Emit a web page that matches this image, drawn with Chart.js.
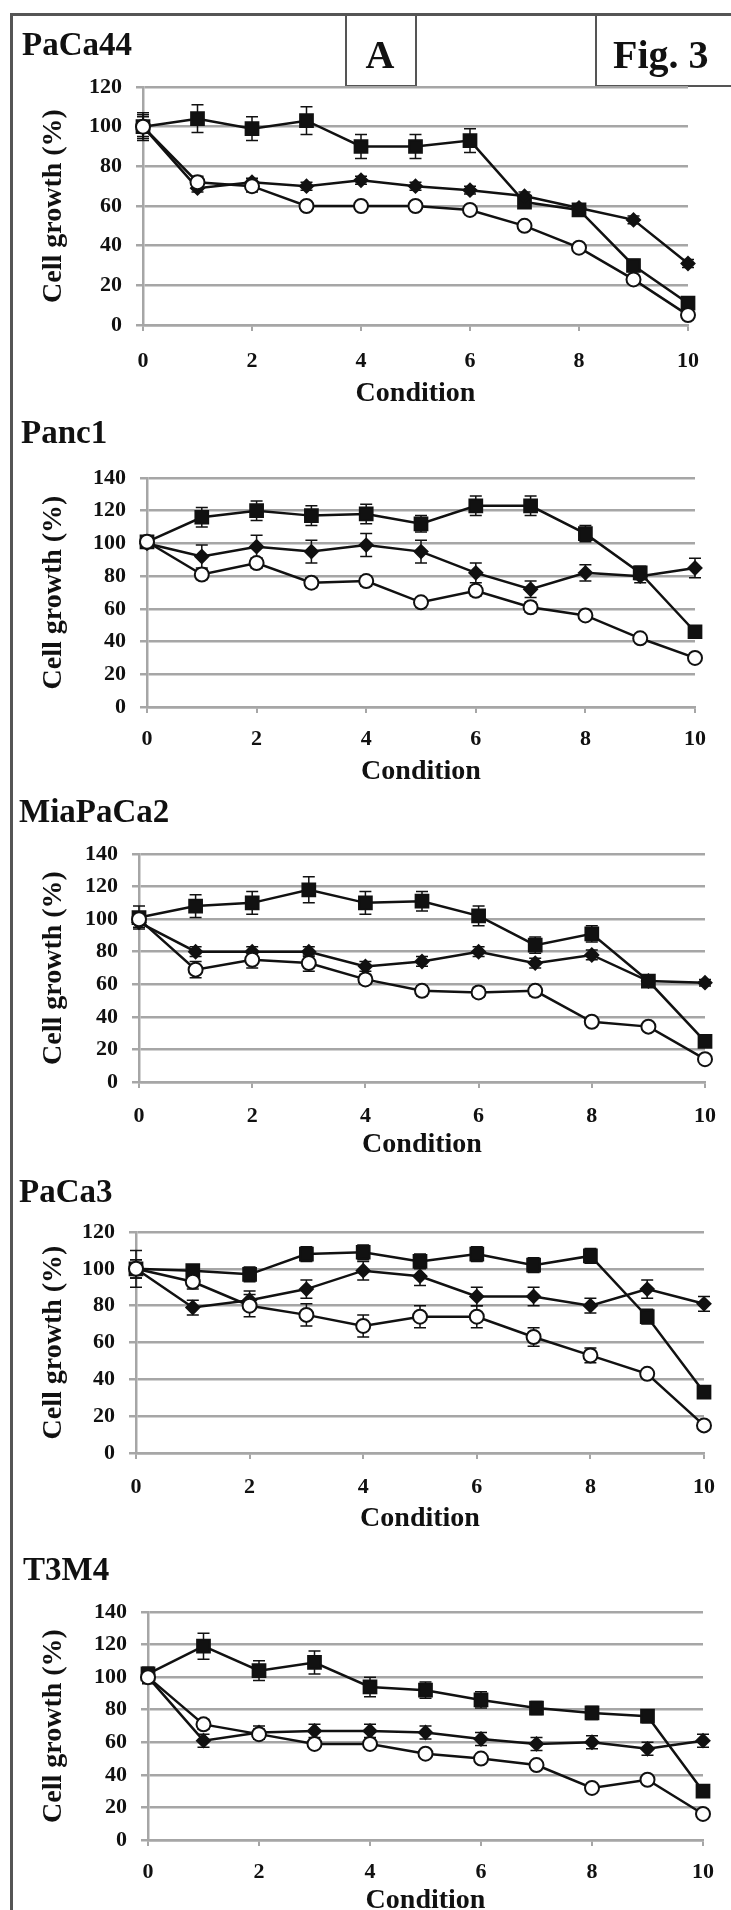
<!DOCTYPE html>
<html>
<head>
<meta charset="utf-8">
<script src="https://cdn.jsdelivr.net/npm/chart.js@4.4.1/dist/chart.umd.min.js"></script>
<style>
  body { margin: 0; background: #fff; }
  #page { position: relative; width: 731px; height: 1910px; overflow: hidden; background: #fff; }
  #frameTop { position: absolute; left: 10px; top: 13px; width: 721px; height: 3px; background: #555; }
  #frameLeft { position: absolute; left: 10px; top: 13px; width: 3px; height: 1897px; background: #555; }
  .box { position: absolute; top: 13px; height: 72px; border: 2px solid #555; border-top: none; }
  canvas { position: absolute; left: 0; }
</style>
</head>
<body>
<div id="page">
  <div id="frameTop"></div>
  <div id="frameLeft"></div>
  <div class="box" style="left:345px;width:68px;"></div>
  <div class="box" style="left:595px;width:150px;"></div>
</div>
<script>
const conditions = [0, 1, 2, 3, 4, 5, 6, 7, 8, 9, 10];
const cellLines = ['PaCa44', 'Panc1', 'MiaPaCa2', 'PaCa3', 'T3M4'];
const yMax = [120, 140, 140, 120, 140];

// PaCa44
const paca44Square = [100, 104, 99, 103, 90, 90, 93, 62, 58, 30, 11];
const paca44SquareErr = [7, 7, 6, 7, 6, 6, 6, 3, 3, 3, 2];
const paca44Diamond = [100, 69, 72, 70, 73, 70, 68, 65, 59, 53, 31];
const paca44DiamondErr = [5, 2, 2, 2, 2, 2, 2, 2, 2, 2, 2];
const paca44Circle = [100, 72, 70, 60, 60, 60, 58, 50, 39, 23, 5];
const paca44CircleErr = [6, 3, 3, 2, 2, 2, 2, 2, 2, 2, 2];

// Panc1
const panc1Square = [101, 116, 120, 117, 118, 112, 123, 123, 106, 82, 46];
const panc1SquareErr = [3, 6, 6, 6, 6, 5, 6, 6, 5, 4, 2];
const panc1Diamond = [100, 92, 98, 95, 99, 95, 82, 72, 82, 80, 85];
const panc1DiamondErr = [3, 7, 7, 7, 7, 7, 6, 5, 5, 4, 6];
const panc1Circle = [101, 81, 88, 76, 77, 64, 71, 61, 56, 42, 30];
const panc1CircleErr = [3, 3, 3, 3, 3, 2, 3, 3, 2, 2, 2];

// MiaPaCa2
const miaSquare = [101, 108, 110, 118, 110, 111, 102, 84, 91, 62, 25];
const miaSquareErr = [7, 7, 7, 8, 7, 6, 6, 5, 5, 3, 3];
const miaDiamond = [98, 80, 80, 80, 71, 74, 80, 73, 78, 62, 61];
const miaDiamondErr = [3, 3, 3, 3, 3, 3, 3, 3, 3, 3, 2];
const miaCircle = [100, 69, 75, 73, 63, 56, 55, 56, 37, 34, 14];
const miaCircleErr = [3, 5, 5, 5, 3, 3, 3, 3, 2, 2, 2];

// PaCa3
const paca3Square = [100, 99, 97, 108, 109, 104, 108, 102, 107, 74, 33];
const paca3SquareErr = [5, 3, 4, 4, 4, 4, 4, 4, 4, 4, 3];
const paca3Diamond = [100, 79, 83, 89, 99, 96, 85, 85, 80, 89, 81];
const paca3DiamondErr = [5, 4, 5, 5, 5, 5, 5, 5, 4, 5, 4];
const paca3Circle = [100, 93, 80, 75, 69, 74, 74, 63, 53, 43, 15];
const paca3CircleErr = [10, 4, 6, 6, 6, 6, 6, 5, 4, 2, 2];

// T3M4
const t3m4Square = [102, 119, 104, 109, 94, 92, 86, 81, 78, 76, 30];
const t3m4SquareErr = [4, 8, 6, 7, 6, 5, 5, 4, 4, 4, 2];
const t3m4Diamond = [100, 61, 66, 67, 67, 66, 62, 59, 60, 56, 61];
const t3m4DiamondErr = [4, 4, 4, 4, 4, 4, 4, 4, 4, 4, 4];
const t3m4Circle = [100, 71, 65, 59, 59, 53, 50, 46, 32, 37, 16];
const t3m4CircleErr = [3, 3, 3, 2, 2, 2, 2, 2, 2, 2, 2];

const squares = [paca44Square, panc1Square, miaSquare, paca3Square, t3m4Square];
const squareErrs = [paca44SquareErr, panc1SquareErr, miaSquareErr, paca3SquareErr, t3m4SquareErr];
const diamonds = [paca44Diamond, panc1Diamond, miaDiamond, paca3Diamond, t3m4Diamond];
const diamondErrs = [paca44DiamondErr, panc1DiamondErr, miaDiamondErr, paca3DiamondErr, t3m4DiamondErr];
const circles = [paca44Circle, panc1Circle, miaCircle, paca3Circle, t3m4Circle];
const circleErrs = [paca44CircleErr, panc1CircleErr, miaCircleErr, paca3CircleErr, t3m4CircleErr];

// where each plot sits on the page
const frames = [
  { top: 87, bottom: 325, left: 143, right: 688, titleX: 22, titleBase: 55, tickPad: 17, cond: 395 },
  { top: 478, bottom: 707, left: 147, right: 695, titleX: 21, titleBase: 443, tickPad: 13, cond: 773 },
  { top: 854, bottom: 1082, left: 139, right: 708, titleX: 19, titleBase: 822, tickPad: 15, cond: 1146 },
  { top: 1232, bottom: 1453, left: 136, right: 704, titleX: 19, titleBase: 1202, tickPad: 15, cond: 1520 },
  { top: 1612, bottom: 1840, left: 148, right: 703, titleX: 23, titleBase: 1580, tickPad: 13, cond: 1902 }
];

const INK = '#111';
const GRID = '#a6a6a6';
const FAMILY = '"Liberation Serif", "Times New Roman", serif';
const tickFont = { family: FAMILY, size: 22, weight: 'bold' };
const titleFont = { family: FAMILY, size: 28, weight: 'bold' };

const errorBars = {
  id: 'errorBars',
  beforeDatasetsDraw(chart) {
    const ctx = chart.ctx;
    const ys = chart.scales.y;
    ctx.save();
    ctx.strokeStyle = INK;
    ctx.lineWidth = 1.5;
    chart.data.datasets.forEach((ds, i) => {
      chart.getDatasetMeta(i).data.forEach((pt, j) => {
        const v = ds.data[j].y, e = ds.errors[j];
        const t = ys.getPixelForValue(v + e), b = ys.getPixelForValue(v - e);
        ctx.beginPath();
        ctx.moveTo(pt.x, t); ctx.lineTo(pt.x, b);
        ctx.moveTo(pt.x - 6, t); ctx.lineTo(pt.x + 6, t);
        ctx.moveTo(pt.x - 6, b); ctx.lineTo(pt.x + 6, b);
        ctx.stroke();
      });
    });
    ctx.restore();
  }
};

// panel name, plus the "A" / "Fig. 3" header on the first canvas
const panelText = {
  id: 'panelText',
  afterDraw(chart, args, opts) {
    const ctx = chart.ctx;
    ctx.save();
    ctx.fillStyle = INK;
    ctx.textBaseline = 'alphabetic';
    opts.items.forEach(it => {
      ctx.font = 'bold ' + it.size + 'px ' + FAMILY;
      ctx.textAlign = it.align || 'left';
      ctx.fillText(it.text, it.x, it.y);
    });
    ctx.restore();
  }
};

function series(vals, errs, style, fill, radius) {
  return {
    data: conditions.map((c, k) => ({ x: c, y: vals[k] })),
    errors: errs,
    clip: false,
    borderColor: INK,
    borderWidth: 2.5,
    tension: 0,
    fill: false,
    pointStyle: style,
    pointRadius: radius,
    pointBackgroundColor: fill,
    pointBorderColor: INK,
    pointBorderWidth: 2
  };
}

const page = document.getElementById('page');

cellLines.forEach((name, i) => {
  const g = frames[i];
  const cTop = i === 0 ? 0 : g.titleBase - 40;
  const cH = g.cond + 20 - cTop;
  const plotH = g.bottom - g.top;
  const padTop = g.top - cTop;
  const cv = document.createElement('canvas');
  cv.width = 731;
  cv.height = cH;
  cv.style.top = cTop + 'px';
  page.appendChild(cv);

  const items = [{ text: name, x: g.titleX, y: g.titleBase - cTop, size: 33 }];
  if (i === 0) {
    items.push({ text: 'A', x: 380, y: 68, size: 40, align: 'center' });
    items.push({ text: 'Fig. 3', x: 613, y: 68, size: 40 });
  }

  new Chart(cv, {
    type: 'line',
    data: {
      datasets: [
        series(circles[i], circleErrs[i], 'circle', '#fff', 7),
        series(diamonds[i], diamondErrs[i], 'rectRot', INK, 6.5),
        series(squares[i], squareErrs[i], 'rect', INK, 9)
      ]
    },
    options: {
      responsive: false,
      animation: false,
      layout: { padding: { top: padTop, left: 37, right: 731 - g.right, bottom: 0 } },
      plugins: { legend: { display: false }, tooltip: { enabled: false }, panelText: { items } },
      scales: {
        x: {
          type: 'linear', min: 0, max: 10,
          ticks: { stepSize: 2, padding: g.tickPad, color: INK, font: tickFont, maxRotation: 0 },
          grid: { drawOnChartArea: false, drawTicks: true, tickLength: 6, color: GRID, lineWidth: 2 },
          border: { color: GRID, width: 2.5 },
          title: { display: true, text: 'Condition', color: INK, font: titleFont, padding: { top: 0, bottom: 4 } },
          afterFit(s) { s.height = cH - padTop - plotH; }
        },
        y: {
          min: 0, max: yMax[i],
          ticks: { stepSize: 20, padding: 14, color: INK, font: tickFont },
          grid: { color: GRID, lineWidth: 2.5, tickLength: 7 },
          border: { color: GRID, width: 2.5 },
          title: { display: true, text: 'Cell growth (%)', color: INK, font: titleFont, padding: { top: 0, bottom: 0 } },
          afterFit(s) { s.width = g.left - 37; }
        }
      }
    },
    plugins: [errorBars, panelText]
  });
});
</script>
</body>
</html>
